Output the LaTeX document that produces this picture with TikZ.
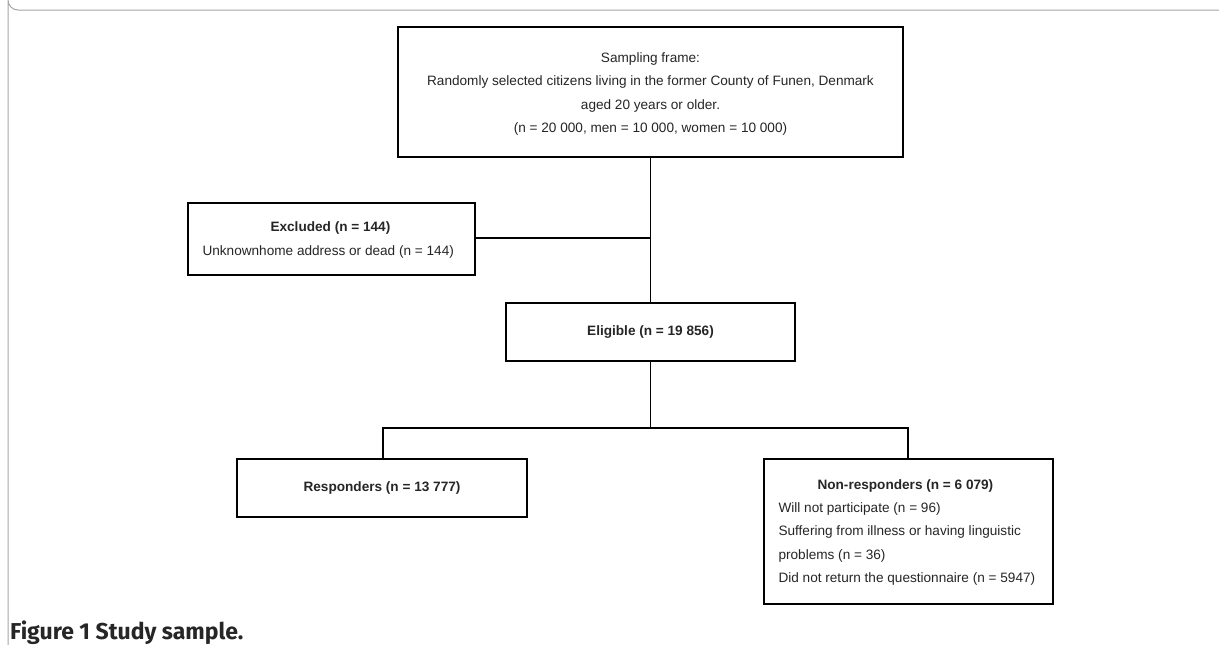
\documentclass[tikz,border=0pt]{standalone}
\usepackage{fontspec}
\setmainfont{Liberation Sans}
\newfontfamily\capfont{Fira Sans}
\begin{document}
\begin{tikzpicture}[x=1pt,y=-1pt,
  box/.style={draw=black,line width=1.6pt,inner sep=0pt},
  txt/.style={font=\fontsize{13.6}{23.3}\selectfont,text=black!85,align=center},
  ln/.style={line width=1.4pt,draw=black}]
\useasboundingbox (0,0) rectangle (1219,645);
\fill[white] (0,0) rectangle (1219,645);
% frame
\draw[gray!70,line width=1pt] (1219,10) -- (18,10) arc[start angle=90,end angle=180,radius=10] -- (8,645);
% boxes
\draw[box] (398,27) rectangle (903,157);
\node[txt] (top) at (650.5,94) {Sampling frame:\\Randomly selected citizens living in the former County of Funen, Denmark\\aged 20 years or older.\\(n = 20 000, men = 10 000, women = 10 000)};
\coordinate (topS) at (650.5,157);
\draw[box] (188,203) rectangle (475,275);
\node[txt,align=left,anchor=west] (exc) at (199,240) {\hspace*{68pt}\textbf{Excluded (n = 144)}\\Unknownhome address or dead (n = 144)};
\coordinate (excE) at (475,238);
\draw[box] (506,303) rectangle (795,361);
\node[txt] (eli) at (650.5,332) {\textbf{Eligible (n = 19 856)}};
\coordinate (eliN) at (650.5,303);
\coordinate (eliS) at (650.5,361);
\draw[box] (237,459) rectangle (527,517);
\node[txt] (resp) at (382,488) {\textbf{Responders (n = 13 777)}};
\coordinate (respN) at (383,459);
\draw[box] (764,459) rectangle (1053,604);
\node[txt,align=left,anchor=north west] (non) at (775,476) {\hspace*{39pt}\textbf{Non-responders (n = 6 079)}\\Will not participate (n = 96)\\Suffering from illness or having linguistic\\problems (n = 36)\\Did not return the questionnaire (n = 5947)};
\coordinate (nonN) at (908,459);
% connectors
\coordinate (b1) at (650.5,238);
\coordinate (b2) at (650.5,428);
\draw[ln] (topS) -- (eliN);
\draw[ln] (excE) -- (b1);
\draw[ln] (eliS) -- (b2);
\draw[ln] (respN) |- (b2) -| (nonN);
% caption
\node[anchor=base west,inner sep=0pt,font=\capfont\bfseries\fontsize{23}{26}\selectfont,text=black!85] (cap) at (10,639) {Figure 1 Study sample.};
\end{tikzpicture}
\end{document}
